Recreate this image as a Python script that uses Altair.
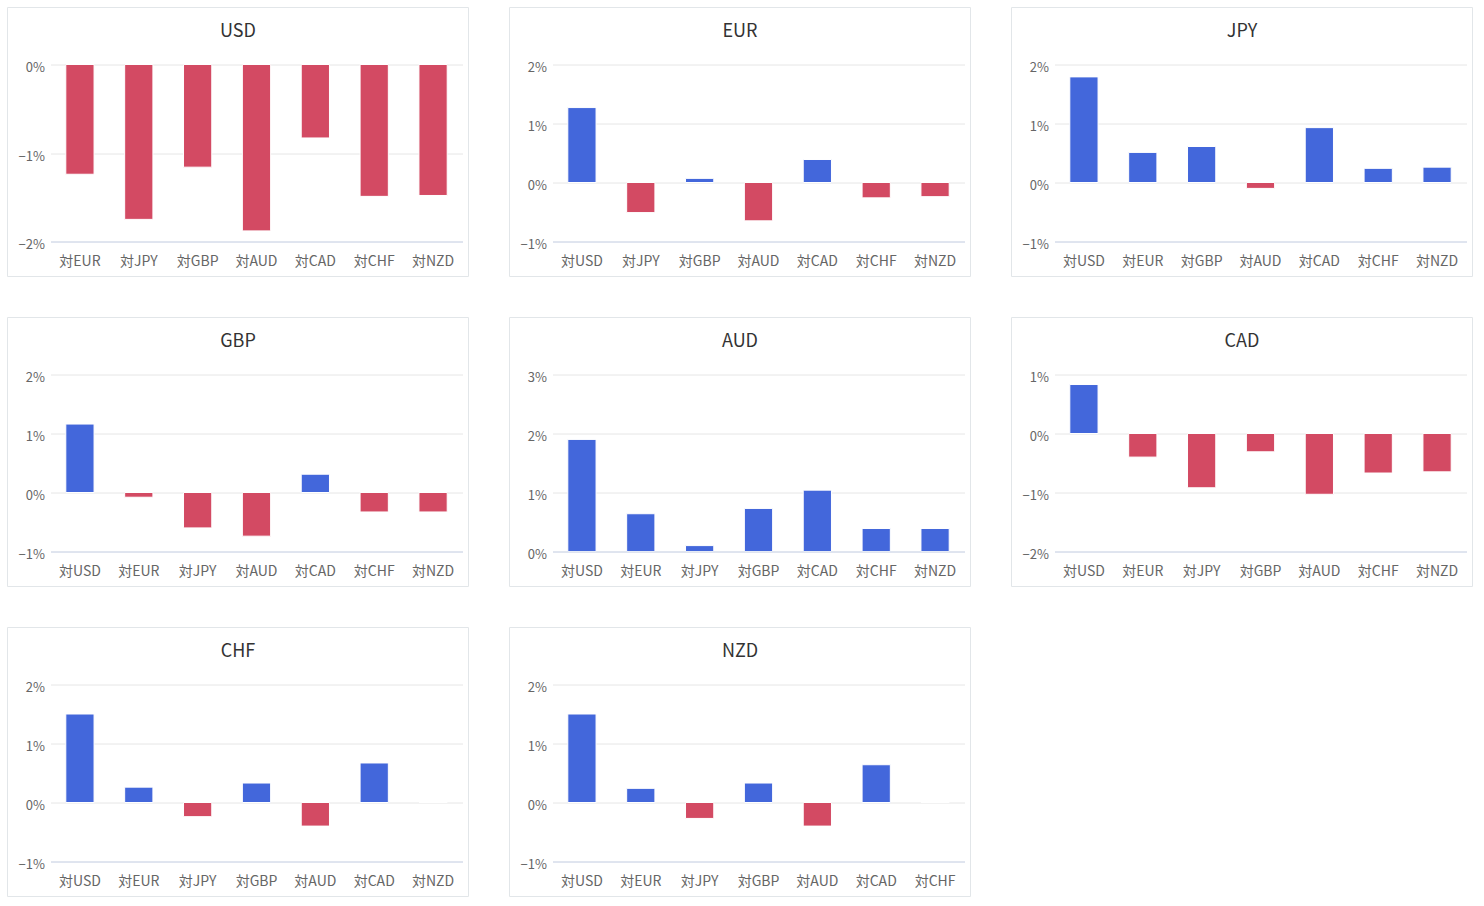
import altair as alt
import pandas as pd

# ---- data ----
bases = ["USD", "EUR", "JPY", "GBP", "AUD", "CAD", "CHF", "NZD"]
all_ccy = ["USD", "EUR", "JPY", "GBP", "AUD", "CAD", "CHF", "NZD"]

usd_vals = [-1.24, -1.75, -1.16, -1.88, -0.83, -1.49, -1.48]
eur_vals = [1.27, -0.51, 0.07, -0.65, 0.39, -0.26, -0.24]
jpy_vals = [1.79, 0.51, 0.61, -0.10, 0.93, 0.24, 0.26]
gbp_vals = [1.16, -0.08, -0.60, -0.74, 0.31, -0.33, -0.33]
aud_vals = [1.90, 0.64, 0.10, 0.73, 1.04, 0.39, 0.39]
cad_vals = [0.83, -0.40, -0.92, -0.31, -1.03, -0.67, -0.65]
chf_vals = [1.50, 0.26, -0.24, 0.33, -0.40, 0.67, 0.00]
nzd_vals = [1.50, 0.24, -0.27, 0.33, -0.40, 0.64, 0.00]

values = {
    "USD": usd_vals, "EUR": eur_vals, "JPY": jpy_vals, "GBP": gbp_vals,
    "AUD": aud_vals, "CAD": cad_vals, "CHF": chf_vals, "NZD": nzd_vals,
}
domains = {
    "USD": [-2, 0], "EUR": [-1, 2], "JPY": [-1, 2], "GBP": [-1, 2],
    "AUD": [0, 3], "CAD": [-2, 1], "CHF": [-1, 2], "NZD": [-1, 2],
}

BLUE = "#4367DB"
RED = "#D34A63"
FONT = "Noto Sans CJK JP"
PW, PH = 412, 177


def panel(base):
    cats = ["対" + c for c in all_ccy if c != base]
    df = pd.DataFrame({"pair": cats, "value": values[base]})
    lo, hi = domains[base]
    ticks = list(range(lo, hi + 1))
    bars = alt.Chart(df).mark_bar(stroke="white", strokeWidth=1).encode(
        x=alt.X("pair:N", sort=None, title=None,
                scale=alt.Scale(paddingInner=0.52, paddingOuter=0.26),
                axis=alt.Axis(labelAngle=0, domainColor="#ccd6eb", domainWidth=1,
                              ticks=False, labelPadding=13, labelFontSize=14,
                              zindex=1)),
        y=alt.Y("value:Q", title=None,
                scale=alt.Scale(domain=[lo, hi], nice=False, zero=False),
                axis=alt.Axis(values=ticks, domain=False, ticks=False,
                              gridColor="#e6e6e6", labelPadding=6,
                              labelFontSize=13, labelOffset=3,
                              labelExpr="format(datum.value, 'd') + '%'")),
        color=alt.condition(alt.datum.value >= 0, alt.value(BLUE), alt.value(RED)),
    )
    frame = alt.Chart(pd.DataFrame({"k": [0]})).mark_rect(
        fill=None, stroke="#e2e6e9", strokeWidth=1, clip=False
    ).encode(
        x=alt.value(-43), x2=alt.value(PW + 6),
        y=alt.value(-57), y2=alt.value(PH + 35),
    )
    return alt.layer(frame, bars).properties(
        width=PW, height=PH, title=alt.Title(base)
    )


rows = []
for i in range(0, len(bases), 3):
    rows.append(alt.hconcat(*[panel(b) for b in bases[i:i + 3]], spacing=39))

chart = alt.vconcat(*rows, spacing=39).properties(
    padding={"left": 6.5, "top": 6.5, "right": 5, "bottom": 5}
).configure_view(stroke=None).configure_axis(
    labelFont=FONT, labelColor="#666666", gridWidth=1
).configure_title(
    font=FONT, fontSize=18, fontWeight="normal", color="#333333",
    anchor="middle", frame="bounds", offset=-34
).configure_concat(spacing=39)

chart.save("out.html", embed_options={"renderer": "svg", "actions": False})
